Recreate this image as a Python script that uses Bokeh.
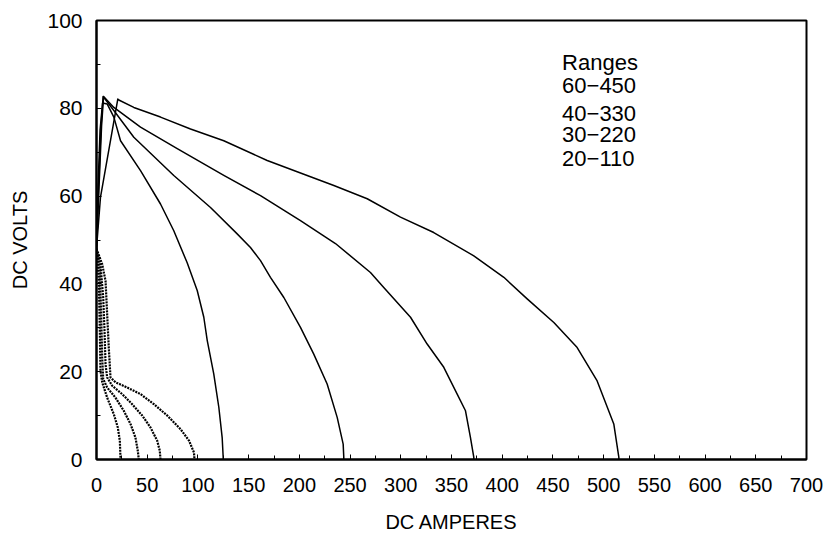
from bokeh.plotting import figure
from bokeh.models import Range1d, FixedTicker, Label
from bokeh.embed import file_html
from bokeh.resources import INLINE

# ---- data (DC amperes, DC volts) ----
max_60_450_a = [0, 3.9, 21, 22, 36.8, 63.1, 92.7, 125.5, 168.3, 207.7, 234, 266.9, 299.7,
                332.5, 372, 401.6, 424.6, 450.9, 473.9, 493.6, 510, 515, 515]
max_60_450_v = [48.0, 59.7, 82.1, 81.9, 80.2, 78.0, 75.3, 72.6, 68.1, 64.7, 62.4, 59.4, 55.2,
                51.7, 46.4, 41.5, 36.6, 31.2, 25.5, 17.9, 8.1, 0.5, 0]

max_40_330_a = [0, 2.5, 5, 7, 17.1, 43.4, 79.6, 125.5, 161.7, 201.1, 235.6, 270.1,
                283.2, 309.6, 326, 342.4, 355.6, 363.8, 368.7, 372, 372]
max_40_330_v = [48, 62, 76, 82.7, 80.2, 75.7, 70.8, 64.7, 60.1, 54.4, 49.2, 42.6,
                39.2, 32.4, 26.3, 21.0, 14.9, 11.1, 5.0, 0.5, 0]

max_30_220_a = [0, 2, 4.5, 6.5, 17.1, 36.8, 76.2, 112.4, 138.7, 151.8, 161.7, 171.5, 184.7,
                201.1, 214.2, 227.4, 237.3, 243.2, 243.8, 243.8]
max_30_220_v = [48, 62, 76, 82.7, 79.5, 73.4, 64.7, 57.4, 51.4, 48.3, 45.3, 41.5, 36.9,
                30.1, 24.0, 17.2, 9.6, 3.5, 0.5, 0]

max_20_110_a = [0, 1.5, 3.5, 6, 10.5, 17.1, 23.7, 43.4, 63.1, 76.2, 89.4, 99.3, 105.8, 109.2,
                115.6, 120.6, 123.9, 124.9, 124.9]
max_20_110_v = [48, 62, 75, 81.2, 81.0, 78.0, 72.6, 65.8, 58.2, 52.1, 44.8, 38.5, 32.4, 27.1,
                19.5, 11.9, 5.0, 0.5, 0]

min_60_450_a = [0, 5.6, 8.9, 10.5, 12.1, 13.8, 18.7, 30.2, 43.4, 56.6, 69.8, 82.9, 91.2, 96.1, 96.6]
min_60_450_v = [48.0, 44.5, 40.7, 33.1, 25.5, 18.7, 17.6, 16.4, 14.9, 12.6, 10.0, 6.9, 4.3, 1.6, 0]

min_40_330_a = [0, 3.9, 6.6, 7.9, 8.9, 10.5, 15.5, 25.3, 35.2, 45.1, 53.2, 59.8, 62.4, 63.1]
min_40_330_v = [48, 44.5, 36.9, 29.3, 21.7, 18.7, 16.8, 14.9, 12.6, 10.0, 7.3, 4.3, 2.0, 0]

min_30_220_a = [0, 3.3, 4.6, 5.6, 6.6, 10.5, 18.7, 26.9, 33.5, 38.4, 40.7, 41.7]
min_30_220_v = [48, 43.0, 33.1, 23.3, 18.3, 16.4, 14.1, 11.1, 8.1, 5.0, 2.0, 0]

min_20_110_a = [0, 2.3, 3.3, 3.9, 5.6, 10.5, 17.1, 21, 23, 23.7]
min_20_110_v = [48, 40.7, 29.3, 20.2, 17.6, 14.1, 10.3, 7.3, 4.3, 0]

x_ticks = [0, 50, 100, 150, 200, 250, 300, 350, 400, 450, 500, 550, 600, 650, 700]
x_minor = [25, 75, 125, 175, 225, 275, 325, 375, 425, 475, 525, 575, 625, 675]
y_ticks = [0, 20, 40, 60, 80, 100]
y_minor = [10, 30, 50, 70, 90]

legend_title = "Ranges"
legend_items = ["60\u2212450", "40\u2212330", "30\u2212220", "20\u2212110"]

FONT = "Liberation Sans"

p = figure(width=831, height=536, output_backend="svg", toolbar_location=None,
           x_range=Range1d(0, 700), y_range=Range1d(0, 100),
           min_border_left=96, min_border_right=25, min_border_top=20, min_border_bottom=77)

p.xgrid.visible = False
p.ygrid.visible = False
p.outline_line_color = "black"
p.outline_line_width = 2
p.outline_line_alpha = 1

p.xaxis.ticker = FixedTicker(ticks=x_ticks, minor_ticks=x_minor)
p.yaxis.ticker = FixedTicker(ticks=y_ticks, minor_ticks=y_minor)
p.xaxis.axis_label = "DC AMPERES"
p.yaxis.axis_label = "DC VOLTS"

for ax in (p.xaxis, p.yaxis):
    ax.axis_line_width = 2
    ax.axis_line_color = "black"
    ax.major_tick_in = 5
    ax.major_tick_out = 0
    ax.minor_tick_in = 4
    ax.minor_tick_out = 0
    ax.major_tick_line_color = "black"
    ax.minor_tick_line_color = "black"
    ax.major_label_text_font = FONT
    ax.major_label_text_color = "black"
    ax.axis_label_text_font = FONT
    ax.axis_label_text_font_size = "20px"
    ax.axis_label_text_font_style = "normal"
    ax.axis_label_text_color = "black"

p.xaxis.major_label_text_font_size = "20px"
p.yaxis.major_label_text_font_size = "21px"
p.xaxis.major_label_standoff = 18
p.xaxis.axis_label_standoff = 16
p.yaxis.major_label_standoff = 14
p.yaxis.axis_label_standoff = 13

solid = [(max_60_450_a, max_60_450_v), (max_40_330_a, max_40_330_v),
         (max_30_220_a, max_30_220_v), (max_20_110_a, max_20_110_v)]
dotted = [(min_60_450_a, min_60_450_v), (min_40_330_a, min_40_330_v),
          (min_30_220_a, min_30_220_v), (min_20_110_a, min_20_110_v)]

for xs, ys in solid:
    p.line(xs, ys, line_color="black", line_width=1.5, line_join="round")
for xs, ys in dotted:
    p.line(xs, ys, line_color="black", line_width=2.2, line_dash="2 1", line_join="round")

# legend text block
label_x = 459
label_ys = [90.5, 85.2, 78.9, 74.0, 68.5]
for txt, yy in zip([legend_title] + legend_items, label_ys):
    p.add_layout(Label(x=label_x, y=yy, text=txt, text_font=FONT, text_font_size="22px",
                       text_color="black", text_baseline="alphabetic", text_align="left"))

open("out.html", "w").write(file_html(p, INLINE))
